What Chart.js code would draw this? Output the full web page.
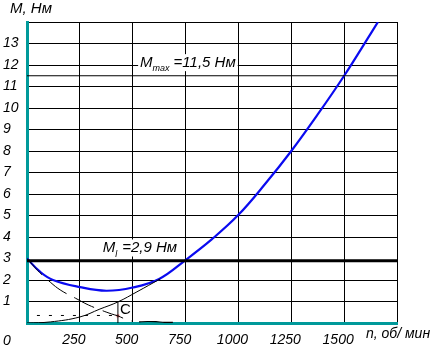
<!DOCTYPE html>
<html><head><meta charset="utf-8">
<script src="https://cdn.jsdelivr.net/npm/chart.js@4"></script>
<style>html,body{margin:0;padding:0;background:#fff;overflow:hidden}</style>
</head><body>
<canvas id="c" width="433" height="353"></canvas>
<script>
// ---- data ----
const xTicks = [0, 250, 500, 750, 1000, 1250, 1500, 1750];
const yTicks = [0,1,2,3,4,5,6,7,8,9,10,11,12,13,14];

// blue torque curve M(n)
const curveN = [0, 60, 123, 250, 375, 500, 625, 750, 875, 1000, 1125, 1250, 1375, 1500, 1625, 1660];
const curveM = [3.0, 2.4, 2.0, 1.67, 1.5, 1.65, 2.05, 2.93, 3.9, 5.03, 6.45, 8.0, 9.7, 11.5, 13.45, 14];

// descending dashed curve
const descN = [0, 50, 110, 160, 230, 290, 345, 400, 430, 475, 500];
const descM = [3.0, 2.45, 1.9, 1.52, 1.15, 0.84, 0.62, 0.42, 0.33, 0.14, 0.08];

// ascending thin curve
const ascN = [0, 110, 250, 345, 430, 520, 630];
const ascM = [0, 0.05, 0.28, 0.65, 0.98, 1.45, 2.05];

// short curve near the axis
const lowN = [530, 570, 610, 650, 690];
const lowM = [0.05, 0.07, 0.06, 0.03, 0.03];

// horizontal reference levels
const mMax = 11.5;
const mL = 2.9;
const dottedLevel = 0.35;
const dottedRange = [47, 430];
const pointC = { n: 430, m: 0.98 };
const redMark = { n: 430, m: 0.33 };

// ---- chart ----
const FAM = '"Liberation Sans Narrow", "Liberation Sans", Arial, sans-serif';
const TEAL = '#00999a';
const pts = (xs, ys) => xs.map((v, i) => ({ x: v, y: ys[i] }));

const textPlugin = {
  id: 'texts',
  beforeDatasetsDraw(chart) {
    const { ctx, scales: { x, y } } = chart;
    ctx.save();
    ctx.textBaseline = 'alphabetic';
    ctx.textAlign = 'left';
    const big = 'italic 15px ' + FAM;
    const sub = 'italic 9px ' + FAM;
    function composite(px, py, parts, box) {
      let w = 0;
      parts.forEach(p => { ctx.font = p[1]; w += ctx.measureText(p[0]).width + (p[3] || 0); });
      if (box) { ctx.fillStyle = '#fff'; ctx.fillRect(px - 2, py - 13, w + 4, 17); }
      ctx.fillStyle = '#000';
      let cx = px;
      parts.forEach(p => { ctx.font = p[1]; ctx.fillText(p[0], cx, py + p[2]); cx += ctx.measureText(p[0]).width + (p[3] || 0); });
    }
    composite(x.getPixelForValue(535), y.getPixelForValue(11.9),
      [['M', big, 0], ['max', sub, 4, 4], ['=11,5 Нм', big, 0]], true);
    composite(x.getPixelForValue(358), y.getPixelForValue(3.28),
      [['M', big, 0], ['l', sub, 5, 5], ['=2,9 Нм', big, 0]], true);
    // C label
    ctx.font = '15px ' + FAM;
    ctx.fillStyle = '#000';
    ctx.fillText('C', x.getPixelForValue(440), y.getPixelForValue(0.42));
    // axis titles
    ctx.font = 'italic 15px ' + FAM;
    ctx.fillText('M, Нм', 10, 13);
    ctx.font = 'italic 14px ' + FAM;
    ctx.fillText('n, об/ мин', 366, 338);
    ctx.fillText('0', 3, 345);
    ctx.restore();
  }
};

const gridColor = c => (c.tick && (c.tick.value === 0)) ? 'rgba(0,0,0,0)' : '#000';
const yGridColor = c => (c.tick && (c.tick.value === 0 || c.tick.value === 3)) ? 'rgba(0,0,0,0)' : '#000';

new Chart(document.getElementById('c'), {
  type: 'line',
  data: {
    datasets: [
      { data: pts([0, 1750], [mMax, mMax]), borderColor: '#000', borderWidth: 1, pointRadius: 0 },
      { data: pts([0, 1750], [mL, mL]), borderColor: '#000', borderWidth: 3, pointRadius: 0 },
      { data: pts(dottedRange, [dottedLevel, dottedLevel]), borderColor: '#000', borderWidth: 1, borderDash: [3, 9], pointRadius: 0 },
      { data: pts(descN, descM), borderColor: '#000', borderWidth: 1, borderDash: [22, 9], pointRadius: 0, tension: 0.4 },
      { data: pts(ascN, ascM), borderColor: '#000', borderWidth: 1, pointRadius: 0, tension: 0.4 },
      { data: pts(lowN, lowM), borderColor: '#000', borderWidth: 1.2, pointRadius: 0, tension: 0.3 },
      { data: pts([pointC.n, pointC.n], [0, pointC.m]), borderColor: '#000', borderWidth: 1, pointRadius: 0 },
      { data: pts(curveN, curveM), borderColor: '#0a0af0', borderWidth: 2.2, pointRadius: 0, tension: 0.4 },
      { data: [{ x: redMark.n, y: redMark.m }], showLine: false, pointStyle: 'rect', pointRadius: 2, backgroundColor: '#ff6a6a', borderColor: '#ff6a6a', borderWidth: 0 }
    ]
  },
  options: {
    responsive: false,
    devicePixelRatio: 1,
    animation: false,
    events: [],
    layout: { padding: { left: 3, right: 36, top: 22, bottom: 0 } },
    plugins: { legend: { display: false }, tooltip: { enabled: false } },
    scales: {
      x: {
        type: 'linear', min: 0, max: 1750,
        afterBuildTicks: a => { a.ticks = xTicks.map(v => ({ value: v })); },
        afterFit: s => { s.height = 30; },
        ticks: {
          autoSkip: false, maxRotation: 0, labelOffset: -6, padding: 9, color: '#000',
          font: { family: FAM, size: 14, style: 'italic' },
          callback: v => (v === 0 || v === 1750) ? '' : String(v)
        },
        grid: { color: gridColor, lineWidth: 1, drawTicks: false },
        border: { color: TEAL, width: 3 }
      },
      y: {
        min: 0, max: 14,
        afterBuildTicks: a => { a.ticks = yTicks.map(v => ({ value: v })); },
        afterFit: s => { s.width = 24; },
        ticks: {
          crossAlign: 'far', padding: 0, color: '#000',
          font: { family: FAM, size: 14, style: 'italic' },
          callback: v => (v === 0 || v === 14) ? '' : String(v)
        },
        grid: { color: yGridColor, lineWidth: 1, drawTicks: false },
        border: { color: TEAL, width: 3 }
      }
    }
  },
  plugins: [textPlugin]
});
</script>
</body></html>
